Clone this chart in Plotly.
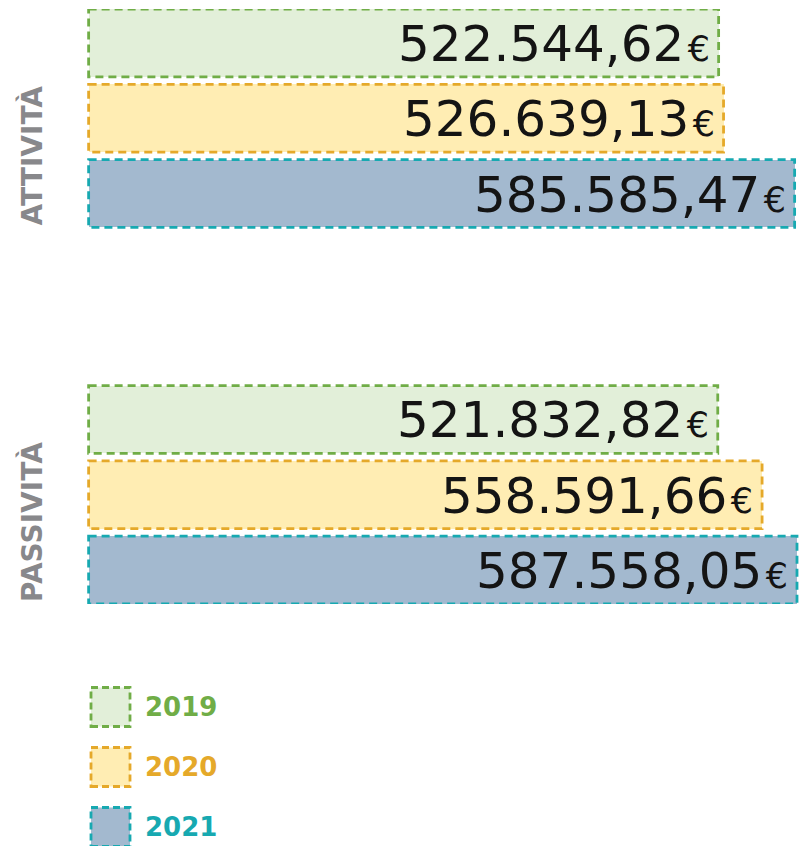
import plotly.graph_objects as go

# Bilancio: attività e passività per anno (euro)
groups = ["ATTIVITÀ", "PASSIVITÀ"]
years = ["2019", "2020", "2021"]
attivita = [522544.62, 526639.13, 585585.47]
passivita = [521832.82, 558591.66, 587558.05]
series_by_group = [attivita, passivita]

fill_colors = ["#e2efd9", "#ffedb3", "#a3b9cf"]
line_colors = ["#70ad47", "#e5a92a", "#17a9b1"]
label_colors = ["#70ad47", "#e5a92a", "#17a9b1"]

W, H = 812, 846
GROUP_STEP = 5          # rows between the two groups
BAR_W = 0.9
X_MAX = 600000
NUM_FONT = "DejaVu Sans"
DASH = "8px,5px"


def fmt_euro(v):
    s = f"{v:,.2f}"
    s = s.replace(",", "X").replace(".", ",").replace("X", ".")
    return s


def py(px):
    """pixel row -> paper fraction"""
    return 1 - px / H


fig = go.Figure()
shapes = []
annotations = []

for k, year in enumerate(years):
    xs = [series_by_group[g][k] for g in range(len(groups))]
    ys = [g * GROUP_STEP + k for g in range(len(groups))]
    fig.add_trace(go.Bar(
        x=xs, y=ys, orientation="h", width=BAR_W, name=year,
        marker=dict(color=fill_colors[k], line=dict(width=0)),
        hoverinfo="skip", showlegend=False,
    ))
    for x, y in zip(xs, ys):
        shapes.append(dict(
            type="rect", xref="x", yref="y",
            x0=0, x1=x, y0=y - BAR_W / 2, y1=y + BAR_W / 2,
            line=dict(color=line_colors[k], width=2.8, dash=DASH),
            fillcolor="rgba(0,0,0,0)", layer="above",
        ))
        annotations.append(dict(
            x=x, y=y, xref="x", yref="y", xanchor="right", yanchor="middle",
            xshift=-7, yshift=-1, showarrow=False,
            text=fmt_euro(x) + "<span style='font-size:35px'>\u200a€</span>",
            font=dict(family=NUM_FONT, size=50, color="#141414"),
        ))

# vertical group titles, aligned to the bottom of each group
for g, name in enumerate(groups):
    annotations.append(dict(
        x=32 / W, xref="paper", y=g * GROUP_STEP + 2 + BAR_W / 2, yref="y",
        text=f"<b>{name}</b>", textangle=-90, showarrow=False,
        xanchor="center", yanchor="bottom",
        font=dict(family="DejaVu Sans", size=28, color="#88888b"),
    ))

# legend: dashed swatches with year labels
legend_centers = [707, 767, 827]
SW = 39
for k, year in enumerate(years):
    cy = legend_centers[k]
    shapes.append(dict(
        type="rect", xref="paper", yref="paper",
        x0=91 / W, x1=(91 + SW) / W, y0=py(cy + SW / 2), y1=py(cy - SW / 2),
        line=dict(color=line_colors[k], width=2.8, dash="7px,4px"),
        fillcolor=fill_colors[k], layer="above",
    ))
    annotations.append(dict(
        x=143 / W, xref="paper", y=py(cy), yref="paper",
        text=f"<b>{year}</b>", showarrow=False,
        xanchor="left", yanchor="middle",
        font=dict(family="DejaVu Sans", size=26, color=label_colors[k]),
    ))

# main axes occupy the band of bars
y_top, y_bot = -BAR_W / 2, GROUP_STEP + 2 + BAR_W / 2
fig.update_layout(
    width=W, height=H,
    margin=dict(l=0, r=0, t=0, b=0),
    paper_bgcolor="white", plot_bgcolor="white",
    bargap=0, barmode="overlay",
    xaxis=dict(domain=[85 / W, 1], range=[-3000, X_MAX], visible=False,
               fixedrange=True),
    yaxis=dict(domain=[py(604), py(9)], range=[y_bot, y_top], visible=False,
               fixedrange=True),
    shapes=shapes,
    annotations=annotations,
    showlegend=False,
)

fig.write_html("out.html")
